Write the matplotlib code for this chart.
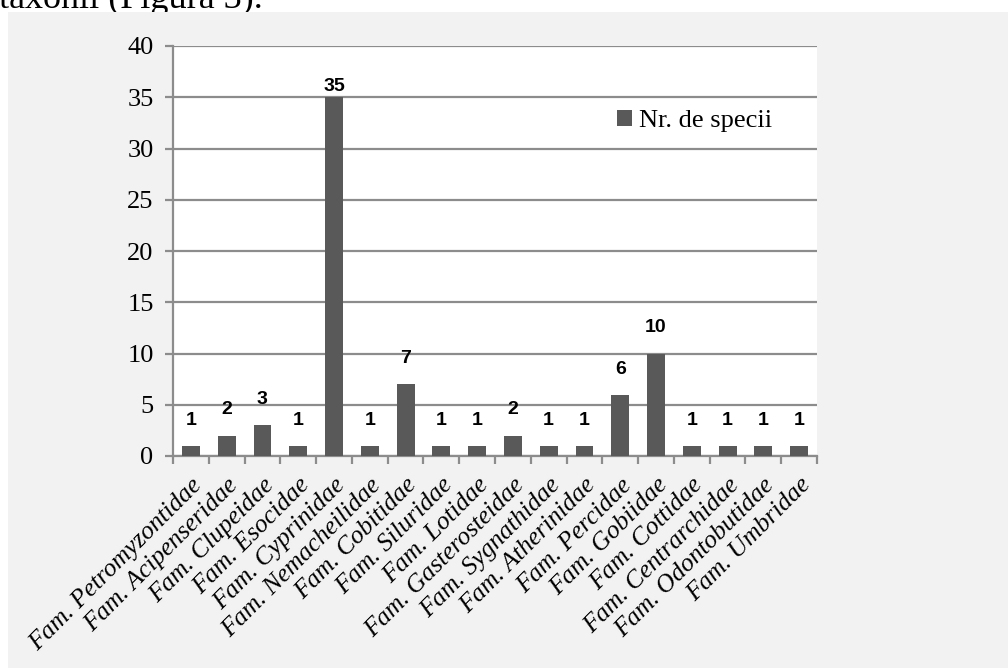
import numpy as np
import matplotlib
matplotlib.use("Agg")
import matplotlib.pyplot as plt
from matplotlib.patches import Rectangle

families = ["Fam. Petromyzontidae", "Fam. Acipenseridae", "Fam. Clupeidae",
            "Fam. Esocidae", "Fam. Cyprinidae", "Fam. Nemacheilidae",
            "Fam. Cobitidae", "Fam. Siluridae", "Fam. Lotidae",
            "Fam. Gasterosteidae", "Fam. Sygnathidae", "Fam. Atherinidae",
            "Fam. Percidae", "Fam. Gobiidae", "Fam. Cottidae",
            "Fam. Centrarchidae", "Fam. Odontobutidae", "Fam. Umbridae"]
species = [1, 2, 3, 1, 35, 1, 7, 1, 1, 2, 1, 1, 6, 10, 1, 1, 1, 1]
yticks = [0, 5, 10, 15, 20, 25, 30, 35, 40]

W, H = 1008, 668
fig = plt.figure(figsize=(W / 100, H / 100), dpi=100, facecolor="white")

# cut-off line of document text above the chart
fig.text(-1 / W, 1 - 8 / H, "taxonii (Figura 3).", family="Liberation Serif",
         fontsize=26, va="baseline", ha="left", zorder=-2)
fig.patches.append(Rectangle((8 / W, 0), 1 - 8 / W, 1 - 12 / H,
                             transform=fig.transFigure, facecolor="#f2f2f2",
                             edgecolor="none", zorder=-1))

ax = fig.add_axes([173 / W, (H - 456) / H, (817 - 173) / W, (456 - 46) / H])
ax.set_facecolor("white")

x = np.arange(len(families))
bars = ax.bar(x, species, width=0.5, color="#595959", label="Nr. de specii", zorder=3)

for xi, v in zip(x, species):
    off = 2 if v == max(species) else 17
    ax.annotate(str(v), (xi, v), xytext=(0, off), textcoords="offset pixels",
                ha="center", va="bottom", fontsize=14, fontweight="bold",
                family="Liberation Sans", zorder=4)

grid_c = "#8c8c8c"
ax.set_ylim(0, 40)
ax.set_xlim(-0.5, len(families) - 0.5)
ax.set_yticks(yticks)
ax.set_yticklabels([str(t) for t in yticks], family="Liberation Serif", fontsize=19)
ax.yaxis.grid(True, color=grid_c, linewidth=1.6, zorder=1)
ax.set_axisbelow(True)

ax.set_xticks(x)
ax.set_xticklabels(families, rotation=45, ha="right", va="top",
                   rotation_mode="anchor", family="Liberation Serif",
                   style="italic", fontsize=18.5)
ax.tick_params(axis="x", which="major", length=0, pad=13)
ax.set_xticks(np.arange(-0.5, len(families)), minor=True)
ax.tick_params(axis="x", which="minor", length=6, width=1.6, color=grid_c)
ax.tick_params(axis="y", length=6, width=1.6, color=grid_c, pad=8)

for s in ["top", "right"]:
    ax.spines[s].set_visible(False)
for s in ["left", "bottom"]:
    ax.spines[s].set_color(grid_c)
    ax.spines[s].set_linewidth(1.6)

leg = ax.legend(loc="upper left", bbox_to_anchor=((617 - 173) / (817 - 173), (456 - 110) / 410),
                frameon=False, prop={"family": "Liberation Serif", "size": 19},
                handlelength=0.55, handleheight=0.55, handletextpad=0.3,
                borderaxespad=0, borderpad=0)

fig.savefig("out.png", dpi=100, facecolor="white")
